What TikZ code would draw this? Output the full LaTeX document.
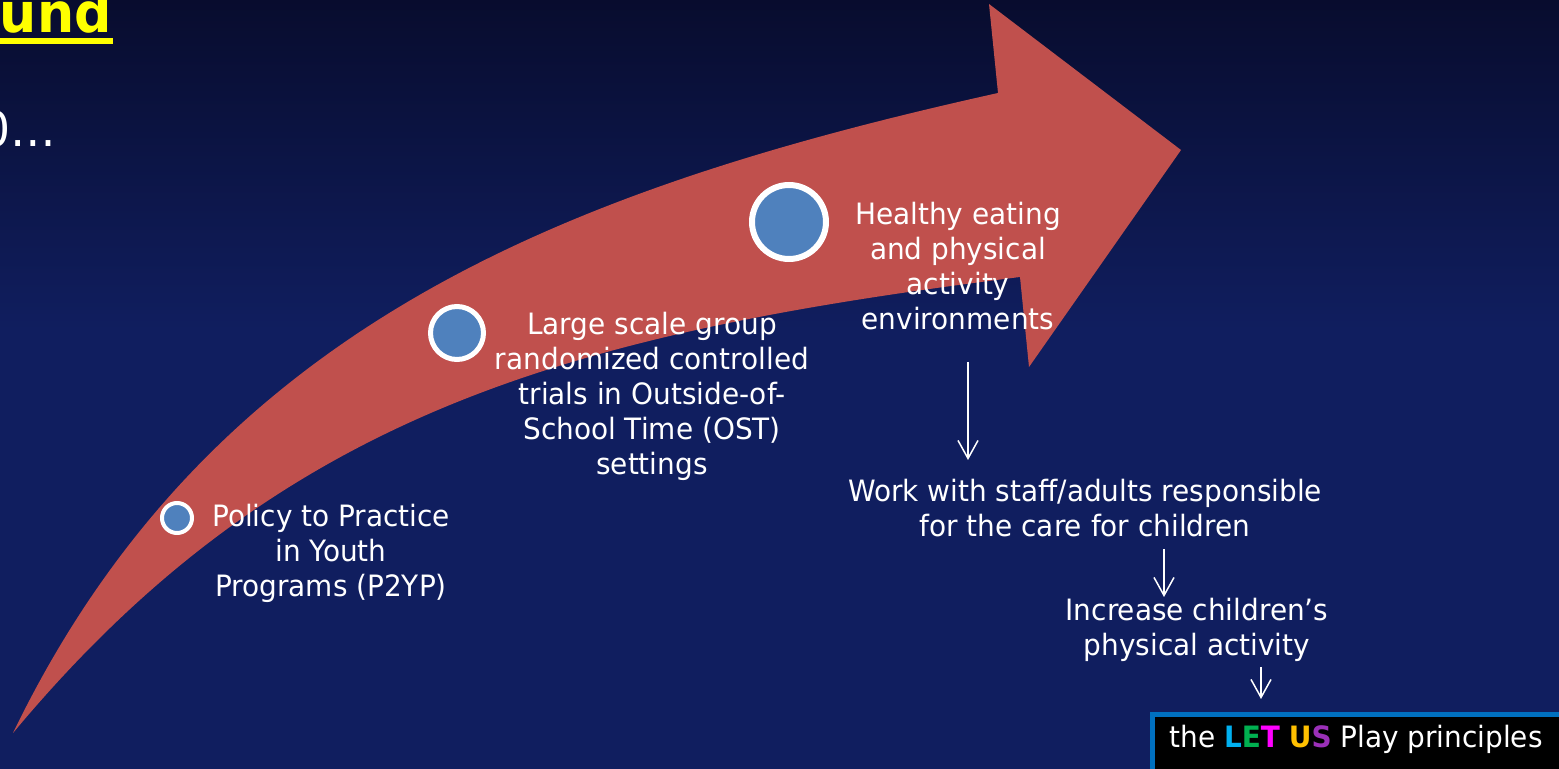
\documentclass[tikz,border=0pt]{standalone}
\usepackage{fontspec}
\setmainfont{DejaVu Sans}[FakeStretch=0.95]
\usetikzlibrary{arrows.meta}

\definecolor{navytop}{HTML}{080C2E}
\definecolor{navy}{HTML}{101E5F}
\definecolor{shaftred}{HTML}{C0504D}
\definecolor{dotblue}{HTML}{4F81BD}
\definecolor{frameblue}{HTML}{0070C0}
\definecolor{titleyellow}{HTML}{FFFF00}
\definecolor{cL}{HTML}{00B0F0}
\definecolor{cE}{HTML}{00B050}
\definecolor{cT}{HTML}{FF00FF}
\definecolor{cU}{HTML}{FFC000}
\definecolor{cS}{HTML}{9B30B8}

\newcommand{\bodyfont}{\fontsize{14.7}{17.5}\selectfont}

\tikzset{
  lbl/.style={text=white, align=center, font=\bodyfont, inner sep=0pt},
  milestone/.style={circle, draw=white, fill=dotblue, inner sep=0pt},
  flow/.style={draw=white, line width=0.75pt,
    -{Straight Barb[length=9pt,width=10pt]}},
}

\begin{document}
\begin{tikzpicture}[x=0.5pt, y=-0.5pt]
  \useasboundingbox (0,0) rectangle (1559,769);
  \clip (0,0) rectangle (1559,769);

  % background
  \fill[navy] (0,0) rectangle (1559,769);
  \shade[top color=navytop, bottom color=navy] (0,0) rectangle (1559,330);

  % curved arrow
  \fill[shaftred]
    (13,733) .. controls (209,328) and (561,190) .. (998,93)
    -- (989,4) -- (1181,150) -- (1029,367) -- (1020,277)
    .. controls (574,333) and (282,410) .. (13,733)
    -- cycle;

  % heading fragments
  \node[anchor=base east, inner sep=0pt, text=titleyellow,
        font=\fontsize{27.5}{33}\selectfont\bfseries] (title) at (112,33) {und};
  \fill[titleyellow] (0,38) rectangle (113,44);
  \node[anchor=base west, inner sep=0pt, text=white,
        font=\fontsize{24}{29}\selectfont] (intro) at (-19,147) {0…};

  % milestones
  \node[milestone, minimum size=15pt, line width=2pt] (m1) at (177,518) {};
  \node[milestone, minimum size=26.5pt, line width=2.5pt] (m2) at (457,333) {};
  \node[milestone, minimum size=37pt, line width=3pt] (m3) at (789,222) {};

  \node[lbl] (p2yp) at (331,553) {Policy to Practice\\in Youth\\Programs (P2YP)};
  \node[lbl] (rct) at (652,396) {Large scale group\\randomized controlled\\trials in Outside-of-\\School Time (OST)\\settings};
  \node[lbl] (env) at (958,266) {Healthy eating\\and physical\\activity\\environments};

  % chain of outcomes
  \node[lbl] (staff) at (1085,508) {Work with staff/adults responsible\\for the care for children};
  \node[lbl] (kids) at (1197,630) {Increase children’s\\physical activity};

  \node[draw=frameblue, line width=2.5pt, fill=black, anchor=north west,
        minimum width=250pt, minimum height=40pt] (frame) at (1149.5,712.5) {};
  \node[lbl, anchor=center] (play) at (1356,739)
    {the {\bfseries\color{cL}L\color{cE}E\color{cT}T} {\bfseries\color{cU}U\color{cS}S} Play principles};

  \coordinate (a1s) at (968,362);
  \coordinate (a1e) at (968,460);
  \coordinate (a2s) at (1164,549);
  \coordinate (a2e) at (1164,597);
  \coordinate (a3s) at (1261,667);
  \coordinate (a3e) at (1261,699);
  \draw[flow] (a1s) -- (a1e);
  \draw[flow] (a2s) -- (a2e);
  \draw[flow] (a3s) -- (a3e);
\end{tikzpicture}
\end{document}
